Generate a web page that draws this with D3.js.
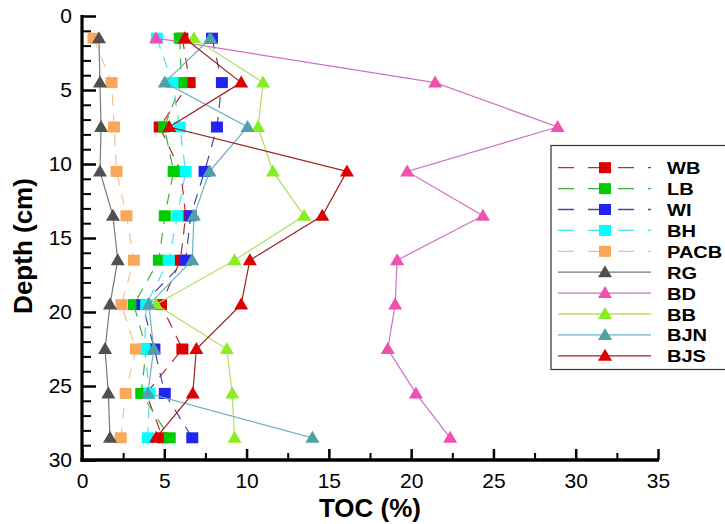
<!DOCTYPE html>
<html>
<head>
<meta charset="utf-8">
<script src="https://cdn.jsdelivr.net/npm/d3@7"></script>
<style>
  html, body { margin: 0; padding: 0; background: #fff; }
  svg { display: block; }
  text { font-family: "Liberation Sans", Arial, sans-serif; }
</style>
</head>
<body>
<svg id="chart" width="725" height="524"></svg>
<script>
// ---- data ----
const depth = [1.5, 4.5, 7.5, 10.5, 13.5, 16.5, 19.5, 22.5, 25.5, 28.5];
const WB   = [6.1, 6.54, 4.72, 6.0, 6.3, 5.98, 4.8, 6.1, 3.9, 4.9];
const LB   = [5.94, 6.04, 5.0, 5.57, 5.03, 4.67, 3.15, 3.9, 3.6, 5.33];
const WI   = [7.9, 8.5, 8.2, 7.45, 6.6, 6.3, 3.67, 4.4, 5.03, 6.7];
const BH   = [4.55, 5.5, 5.94, 6.3, 5.8, 5.27, 3.9, 3.8, 4.1, 4.0];
const PACB = [0.7, 1.8, 1.95, 2.1, 2.7, 3.15, 2.4, 3.27, 2.65, 2.35];
const RG   = [1.03, 1.09, 1.16, 1.09, 1.88, 2.17, 1.7, 1.4, 1.6, 1.7];
const BD   = [4.5, 21.46, 28.9, 19.76, 24.36, 19.15, 19.03, 18.58, 20.29, 22.37];
const BB   = [6.8, 11.0, 10.7, 11.6, 13.5, 9.27, 4.5, 8.8, 9.13, 9.27];
const BJN  = [7.8, 5.03, 10.06, 7.75, 6.8, 6.7, 4.06, 4.36, 4.0, 14.0];
const BJS  = [6.24, 9.67, 5.3, 16.1, 14.6, 10.2, 9.67, 6.95, 6.73, 4.5];

const xTicks = [0, 5, 10, 15, 20, 25, 30, 35];
const yTicks = [0, 5, 10, 15, 20, 25, 30];
const xTitle = "TOC (%)";
const yTitle = "Depth (cm)";

const series = [
  {name: "WB",   values: WB,   shape: "square",   fill: "#dd0000", line: "#b03030", dash: true},
  {name: "LB",   values: LB,   shape: "square",   fill: "#00cc00", line: "#40b040", dash: true},
  {name: "WI",   values: WI,   shape: "square",   fill: "#2424f0", line: "#484898", dash: true},
  {name: "BH",   values: BH,   shape: "square",   fill: "#00ffff", line: "#50e0e8", dash: true},
  {name: "PACB", values: PACB, shape: "square",   fill: "#f8a858", line: "#f0c090", dash: true},
  {name: "RG",   values: RG,   shape: "triangle", fill: "#505050", line: "#787878", dash: false},
  {name: "BD",   values: BD,   shape: "triangle", fill: "#f050b0", line: "#d070c8", dash: false},
  {name: "BB",   values: BB,   shape: "triangle", fill: "#88ee22", line: "#b0e060", dash: false},
  {name: "BJN",  values: BJN,  shape: "triangle", fill: "#50a0a8", line: "#70b0c0", dash: false},
  {name: "BJS",  values: BJS,  shape: "triangle", fill: "#dd0000", line: "#a02020", dash: false}
];

// ---- layout ----
const svg = d3.select("#chart");
const x = d3.scaleLinear().domain([0, 35]).range([82, 658]);
const y = d3.scaleLinear().domain([0, 30]).range([16, 460]);

function marker(sel, shape, cx, cy, fill) {
  if (shape === "square") {
    sel.append("rect").attr("x", cx - 6).attr("y", cy - 5.5)
      .attr("width", 12).attr("height", 11).attr("fill", fill);
  } else {
    sel.append("path")
      .attr("d", `M${cx},${cy - 7}L${cx + 7},${cy + 5}L${cx - 7},${cy + 5}Z`)
      .attr("fill", fill);
  }
}

// ---- series ----
const line = d3.line().x(d => x(d[0])).y(d => y(d[1]));
series.forEach(s => {
  const pts = s.values.map((v, i) => [v, depth[i]]);
  const g = svg.append("g");
  g.append("path").attr("d", line(pts)).attr("fill", "none")
    .attr("stroke", s.line).attr("stroke-width", 1.2)
    .attr("stroke-dasharray", s.dash ? "11,9" : null);
  pts.forEach(p => marker(g, s.shape, x(p[0]), y(p[1]), s.fill));
});

// ---- axes ----
const xAxis = svg.append("g").attr("transform", "translate(0,460)")
  .call(d3.axisBottom(x).tickValues(xTicks).tickSizeInner(-11).tickSizeOuter(0).tickPadding(13));
xAxis.select(".domain").remove();
xAxis.selectAll(".tick line").attr("stroke", "#000").attr("stroke-width", 2.5);
xAxis.selectAll(".tick text").attr("font-size", 21).attr("fill", "#000")
  .attr("font-family", "Liberation Sans, Arial, sans-serif");

const xMinor = svg.append("g").attr("transform", "translate(0,460)")
  .call(d3.axisBottom(x).tickValues(d3.range(2.5, 35, 5)).tickSizeInner(-7).tickSizeOuter(0).tickFormat(""));
xMinor.select(".domain").remove();
xMinor.selectAll(".tick line").attr("stroke", "#000").attr("stroke-width", 2);

const yAxis = svg.append("g").attr("transform", "translate(82,0)")
  .call(d3.axisLeft(y).tickValues(yTicks).tickSizeInner(-14).tickSizeOuter(0).tickPadding(10));
yAxis.select(".domain").remove();
yAxis.selectAll(".tick line").attr("stroke", "#000").attr("stroke-width", 2.5);
yAxis.selectAll(".tick text").attr("font-size", 21).attr("fill", "#000")
  .attr("font-family", "Liberation Sans, Arial, sans-serif");

const yMinor = svg.append("g").attr("transform", "translate(82,0)")
  .call(d3.axisLeft(y).tickValues(d3.range(0, 31, 1).filter(v => v % 5 !== 0)).tickSizeInner(-9).tickSizeOuter(0).tickFormat(""));
yMinor.select(".domain").remove();
yMinor.selectAll(".tick line").attr("stroke", "#000").attr("stroke-width", 2);

svg.append("line").attr("x1", 82).attr("x2", 82).attr("y1", y(0) - 1).attr("y2", y(30) + 1.5)
  .attr("stroke", "#000").attr("stroke-width", 3.2);
svg.append("line").attr("x1", 80.4).attr("x2", x(35) + 1).attr("y1", 460).attr("y2", 460)
  .attr("stroke", "#000").attr("stroke-width", 3.5);

// ---- titles ----
svg.append("text").attr("x", 370).attr("y", 517).attr("text-anchor", "middle")
  .attr("font-size", 26).attr("font-weight", "bold").text(xTitle);
svg.append("text").attr("transform", "translate(32,246) rotate(-90)").attr("text-anchor", "middle")
  .attr("font-size", 26).attr("font-weight", "bold").text(yTitle);

// ---- legend ----
const lg = svg.append("g");
lg.append("rect").attr("x", 551).attr("y", 145.5).attr("width", 190).attr("height", 224)
  .attr("fill", "#fff").attr("stroke", "#333").attr("stroke-width", 1.2);
series.forEach((s, i) => {
  const cy = 167.7 + i * 20.9;
  lg.append("line").attr("x1", 558).attr("x2", 651).attr("y1", cy).attr("y2", cy)
    .attr("stroke", s.line).attr("stroke-width", 1.3)
    .attr("stroke-dasharray", s.dash ? "16,14" : null);
  marker(lg, s.shape, 605, cy, s.fill);
  lg.append("text").attr("transform", `translate(667,${cy + 6.5}) scale(1.18,1)`)
    .attr("font-size", 17).attr("font-weight", "bold").attr("fill", "#000").text(s.name);
});
</script>
</body>
</html>
